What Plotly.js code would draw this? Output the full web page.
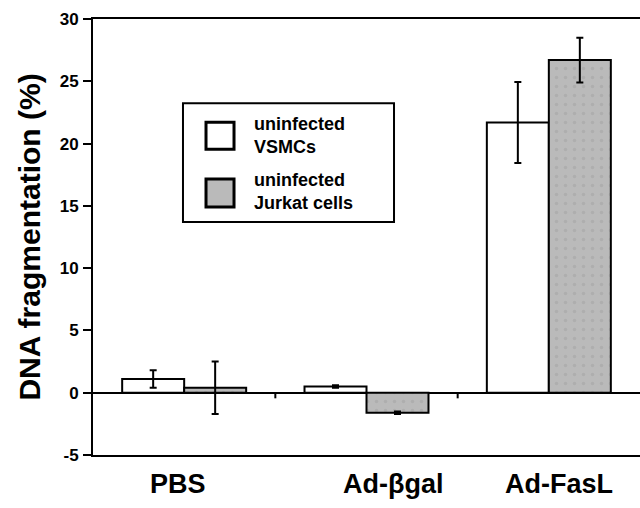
<!DOCTYPE html>
<html>
<head>
<meta charset="utf-8">
<script src="https://cdn.plot.ly/plotly-3.0.1.min.js"></script>
<style>html,body{margin:0;padding:0;background:#fff;}#chart{width:640px;height:508px;}</style>
</head>
<body>
<div id="chart"></div>
<script>
// ---- data ----
const categories = ["PBS", "Ad-\u03B2gal", "Ad-FasL"];
const seriesNames = ["uninfected VSMCs", "uninfected Jurkat cells"];
const vsmcValues = [1.1, 0.5, 21.7];
const vsmcErrors = [0.7, 0.1, 3.25];
const jurkatValues = [0.4, -1.6, 26.7];
const jurkatErrors = [2.1, 0.1, 1.8];
const yTickVals = [-5, 0, 5, 10, 15, 20, 25, 30];
const legendLabels = ["uninfected<br>VSMCs", "uninfected<br>Jurkat cells"];

const FONT = "Liberation Sans, Arial, Helvetica, sans-serif";
const black = "#000000";
const grayFill = "#bababa";

const traces = [
  {
    type: "bar", name: seriesNames[0], x: categories, y: vsmcValues,
    marker: {color: "#ffffff", line: {color: black, width: 2}},
    error_y: {type: "data", array: vsmcErrors, visible: true, color: black, thickness: 2, width: 3.5},
    showlegend: false
  },
  {
    type: "bar", name: seriesNames[1], x: categories, y: jurkatValues,
    marker: {color: grayFill, line: {color: black, width: 2},
             pattern: {shape: ".", bgcolor: grayFill, fgcolor: "#aeaeae", size: 9, solidity: 0.12, fillmode: "replace"}},
    error_y: {type: "data", array: jurkatErrors, visible: true, color: black, thickness: 2, width: 3.5},
    showlegend: false
  }
];

// custom legend (box, swatches) in paper coordinates
const shapes = [
  {type: "rect", xref: "paper", yref: "paper", x0: 0.1645, x1: 0.5503, y0: 0.5343, y1: 0.8068,
   line: {color: black, width: 2}, fillcolor: "#ffffff", layer: "above"},
  {type: "rect", xref: "paper", yref: "paper", x0: 0.2066, x1: 0.2578, y0: 0.7015, y1: 0.7633,
   line: {color: black, width: 3}, fillcolor: "#ffffff", layer: "above"},
  {type: "rect", xref: "paper", yref: "paper", x0: 0.2066, x1: 0.2578, y0: 0.5689, y1: 0.6330,
   line: {color: black, width: 3}, fillcolor: grayFill, layer: "above"},
  // small category-boundary ticks on the zero line
  {type: "line", xref: "x", yref: "y", x0: 0.5, x1: 0.5, y0: 0, y1: -0.45, line: {color: black, width: 2}},
  {type: "line", xref: "x", yref: "y", x0: 1.5, x1: 1.5, y0: 0, y1: -0.45, line: {color: black, width: 2}}
];

const legendY = [0.7335, 0.6055];
const annotations = [];
legendLabels.forEach((t, i) => {
  annotations.push({
    xref: "paper", yref: "paper", x: 0.2907, y: legendY[i], xanchor: "left", yanchor: "middle",
    text: t, showarrow: false, align: "left",
    font: {family: FONT, size: 18, color: black, weight: "bold"}
  });
});
// category labels under the axis
const labelShift = [-6, 26, 10];
categories.forEach((c, i) => {
  annotations.push({
    xref: "x", yref: "paper", x: c, y: -0.066, xanchor: "center", yanchor: "middle",
    xshift: labelShift[i], text: c, showarrow: false,
    font: {family: FONT, size: 27, color: black, weight: "bold"}
  });
});

const layout = {
  width: 640, height: 508,
  margin: {l: 93, r: 0, t: 19, b: 53},
  paper_bgcolor: "#ffffff", plot_bgcolor: "#ffffff",
  barmode: "group", bargap: 0.32, bargroupgap: 0,
  showlegend: false,
  font: {family: FONT, color: black},
  xaxis: {
    type: "category", range: [-0.5, 2.5], fixedrange: true,
    showline: true, mirror: true, linecolor: black, linewidth: 2,
    showgrid: false, zeroline: false, ticks: "", showticklabels: false
  },
  yaxis: {
    range: [-5, 30], tickvals: yTickVals, ticktext: yTickVals.map(String),
    showline: true, mirror: false, linecolor: black, linewidth: 2,
    showgrid: false, zeroline: true, zerolinecolor: black, zerolinewidth: 2,
    ticks: "outside", ticklen: 8, tickwidth: 2, tickcolor: black,
    tickfont: {family: FONT, size: 17, color: black, weight: "bold"},
    ticklabelstandoff: 1,
    automargin: false,
    title: {text: "DNA fragmentation (%)", standoff: 10,
            font: {family: FONT, size: 30, color: black, weight: "bold"}}
  },
  shapes: shapes,
  annotations: annotations
};

Plotly.newPlot("chart", traces, layout, {displayModeBar: false, staticPlot: true});
</script>
</body>
</html>
